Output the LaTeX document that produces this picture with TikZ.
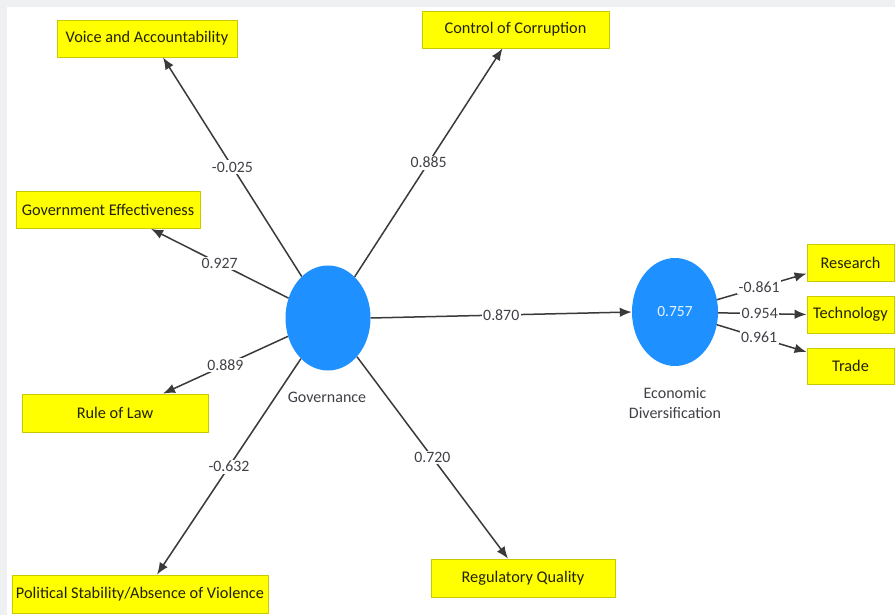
\documentclass[tikz,border=0pt]{standalone}
\usepackage{fontspec}
\setmainfont{Carlito}
\usetikzlibrary{arrows.meta,shapes.geometric}
\definecolor{bgray}{HTML}{EFF0F2}
\definecolor{boxyel}{HTML}{FFFF00}
\definecolor{boxedge}{HTML}{C9C900}
\definecolor{lvblue}{RGB}{30,144,255}
\definecolor{linegray}{HTML}{3A3A3A}
\definecolor{numgray}{HTML}{404048}
\definecolor{boxtext}{HTML}{222205}
\tikzset{
  indbox/.style={draw=boxedge, line width=0.8pt, fill=boxyel, rectangle, inner sep=0pt,
    text=boxtext, font=\fontsize{16.3}{19}\selectfont},
  latent/.style={ellipse, fill=lvblue, draw=none, inner sep=0pt},
  conn/.style={draw=linegray, line width=1.5pt, -{Latex[length=12pt,width=9.5pt]}},
  coef/.style={fill=white, inner sep=1.5pt, text=numgray, font=\fontsize{15.8}{18}\selectfont, midway},
  lvname/.style={text=numgray, font=\fontsize{16}{19.5}\selectfont, align=center}
}
\begin{document}
\begin{tikzpicture}[x=1pt,y=-1pt]
\useasboundingbox (0,0) rectangle (895,615);
\fill[bgray] (0,0) rectangle (895,615);
\fill[white] (7,7) rectangle (895,615);

% latent variables
\node[latent, minimum width=85pt, minimum height=105pt] (gov) at (328,318) {};
\node[latent, minimum width=86pt, minimum height=108pt, text=white!90!lvblue,
      font=\fontsize{15.5}{17}\selectfont] (eco) at (675,312) {0.757};
\node[lvname] (govlab) at (327,397) {Governance};
\node[lvname] (ecolab) at (675,403) {Economic\\Diversification};

% indicators
\node[indbox, minimum width=180pt, minimum height=37pt] (va) at (147,38.5) {Voice and Accountability};
\node[indbox, minimum width=184pt, minimum height=37pt] (ge) at (108,210) {Government Effectiveness};
\node[indbox, minimum width=187pt, minimum height=37pt] (cc) at (515.5,29.5) {Control of Corruption};
\node[indbox, minimum width=186pt, minimum height=38pt] (rl) at (115,413) {Rule of Law};
\node[indbox, minimum width=256pt, minimum height=38pt] (ps) at (140,594) {Political Stability/Absence of Violence};
\node[indbox, minimum width=184pt, minimum height=38pt] (rq) at (523,578) {Regulatory Quality};
\node[indbox, minimum width=87pt, minimum height=37pt] (re) at (850.5,262.5) {Research};
\node[indbox, minimum width=87pt, minimum height=37pt] (te) at (850.5,314.5) {Technology};
\node[indbox, minimum width=87pt, minimum height=36pt] (tr) at (850.5,366) {Trade};

% arrow tips
\coordinate (tva) at ([xshift=16pt]va.south);
\coordinate (tge) at ([xshift=43pt]ge.south);
\coordinate (tcc) at ([xshift=-13pt]cc.south);
\coordinate (trl) at ([xshift=48pt]rl.north);
\coordinate (tps) at ([xshift=17pt]ps.north);
\coordinate (trq) at ([xshift=-15pt]rq.north);
\coordinate (tre) at ([yshift=-11pt]re.west);
\coordinate (tte) at (te.west);
\coordinate (ttr) at ([yshift=14pt]tr.west);
\coordinate (teco) at (eco.west);

% connectors
\draw[conn] (gov) -- node[coef] {-0.025} (tva);
\draw[conn] (gov) -- node[coef] {0.927} (tge);
\draw[conn] (gov) -- node[coef] {0.885} (tcc);
\draw[conn] (gov) -- node[coef] {0.889} (trl);
\draw[conn] (gov) -- node[coef] {-0.632} (tps);
\draw[conn] (gov) -- node[coef] {0.720} (trq);
\draw[conn] (gov.east) -- node[coef] {0.870} (teco);
\draw[conn] (eco) -- node[coef, pos=0.47] {-0.861} (tre);
\draw[conn] (eco) -- node[coef, pos=0.47] {0.954} (tte);
\draw[conn] (eco) -- node[coef, pos=0.47] {0.961} (ttr);
\end{tikzpicture}
\end{document}
